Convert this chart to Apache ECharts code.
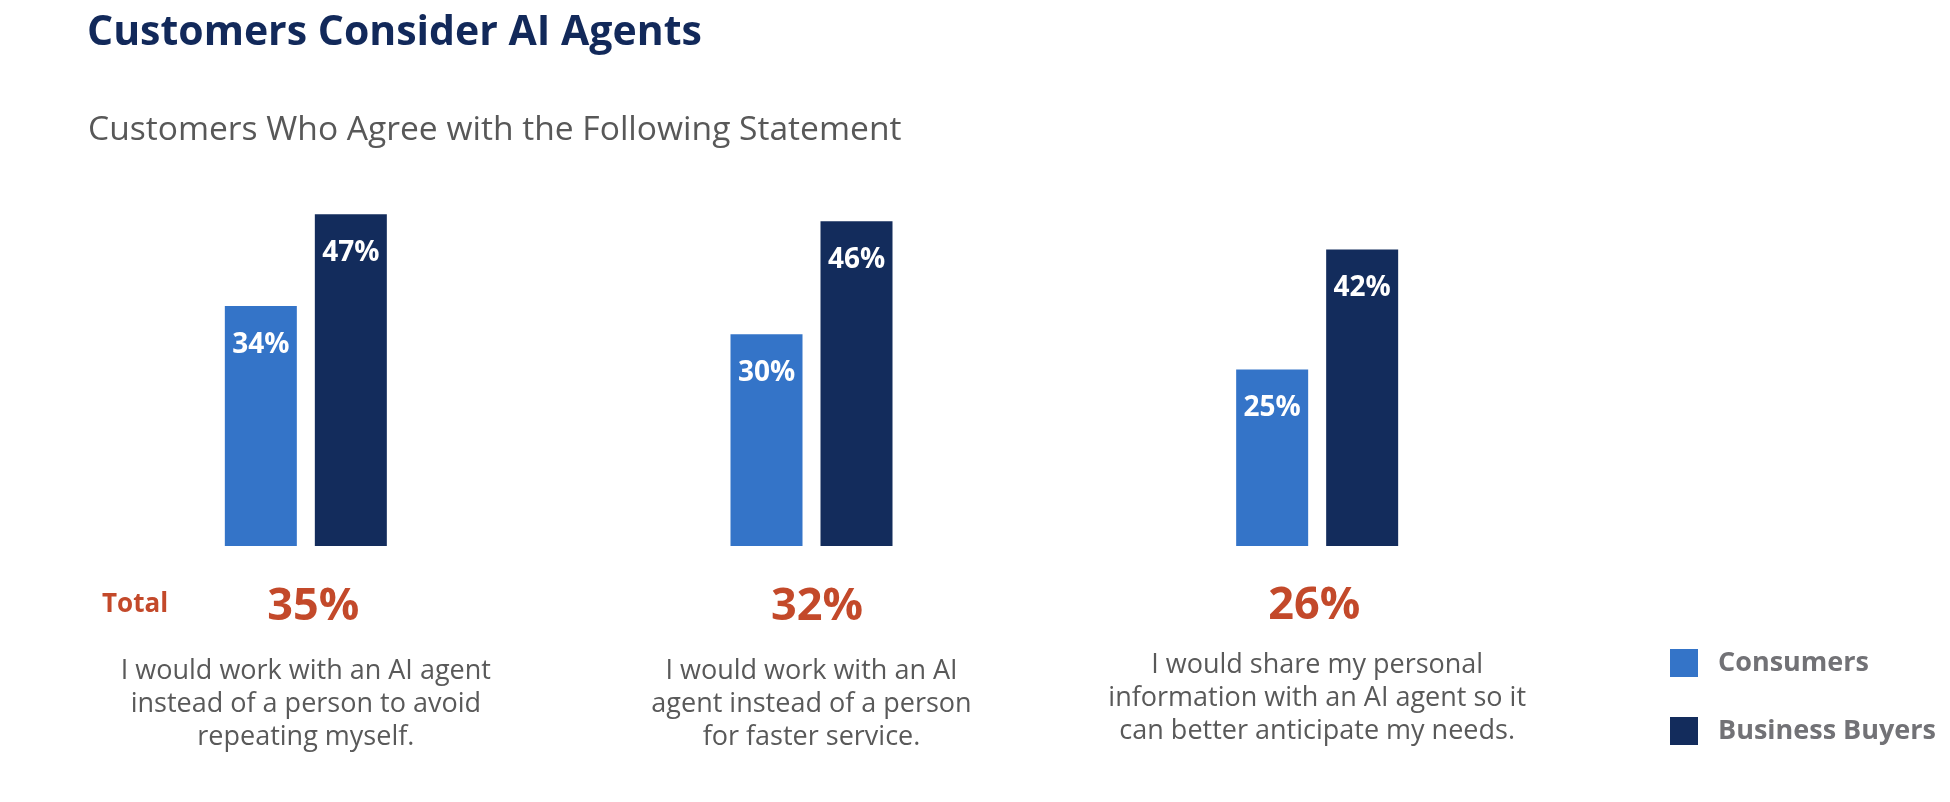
<!DOCTYPE html>
<html>
<head>
<meta charset="utf-8">
<script src="https://cdn.jsdelivr.net/npm/echarts@6/dist/echarts.min.js"></script>
<style>
html,body{margin:0;padding:0;background:#fff;}
#chart{width:1950px;height:802px;}
</style>
</head>
<body>
<div id="chart"></div>
<script>
var categories = [
  "I would work with an AI agent\ninstead of a person to avoid\nrepeating myself.",
  "I would work with an AI\nagent instead of a person\nfor faster service.",
  "I would share my personal\ninformation with an AI agent so it\ncan better anticipate my needs."
];
var consumers = [34, 30, 25];
var businessBuyers = [47, 46, 42];
var totals = [35, 32, 26];
var seriesNames = ["Consumers", "Business Buyers"];

var FONT = '"Open Sans", "Noto Sans", sans-serif';
var totalBase = {fontFamily: FONT, fontSize: 45, fontWeight: 'bold', color: '#c3492a', align: 'center'};
var chart = echarts.init(document.getElementById('chart'));
var option = {
  backgroundColor: '#ffffff',
  animation: false,
  title: [
    {
      text: 'Customers Consider AI Agents',
      left: 82, top: 8,
      textStyle: {fontFamily: FONT, fontSize: 41, fontWeight: 'bold', color: '#12295a'}
    },
    {
      text: 'Customers Who Agree with the Following Statement',
      left: 83, top: 108,
      textStyle: {fontFamily: FONT, fontSize: 33.6, fontWeight: 'normal', color: '#585858'}
    }
  ],
  legend: {
    orient: 'vertical',
    left: 1670, top: 649, padding: 0,
    itemWidth: 28, itemHeight: 28, itemGap: 40,
    icon: 'rect',
    data: seriesNames,
    textStyle: {fontFamily: FONT, fontSize: 27, fontWeight: 'bold', color: '#727276', padding: [0, 0, 0, 15]}
  },
  grid: {left: 53, right: 380, top: 193, bottom: 256},
  xAxis: {
    type: 'category',
    data: categories,
    axisLine: {show: false},
    axisTick: {show: false},
    axisLabel: {
      interval: 0,
      margin: 6,
      formatter: function (value, idx) {
        return '{t' + (idx + 1) + '|' + totals[idx] + '%}\n' + value.split('\n').map(function (l) { return '{d|' + l + '}'; }).join('\n');
      },
      rich: {
        t1: Object.assign({lineHeight: 103, padding: [7, 0, 0, 15]}, totalBase),
        t2: Object.assign({lineHeight: 103, padding: [7, 0, 0, 11]}, totalBase),
        t3: Object.assign({lineHeight: 97, padding: [12, 6, 0, 0]}, totalBase),
        d: {fontFamily: FONT, fontSize: 27, color: '#595959', lineHeight: 33, align: 'center'}
      }
    }
  },
  yAxis: {
    type: 'value', min: 0, max: 50, show: false,
    splitLine: {show: false}
  },
  graphic: [
    {
      type: 'text', x: 102, y: 605,
      style: {text: 'Total', font: 'bold 26px "Open Sans"', fill: '#c3492a', verticalAlign: 'middle', align: 'left'}
    }
  ],
  series: [
    {
      name: seriesNames[0], type: 'bar', data: consumers,
      barWidth: 72, barGap: '25%',
      itemStyle: {color: '#3474c8'},
      label: {show: true, position: 'insideTop', distance: 25, formatter: '{c}%',
        fontFamily: FONT, fontSize: 28, fontWeight: 'bold', color: '#ffffff'}
    },
    {
      name: seriesNames[1], type: 'bar', data: businessBuyers,
      barWidth: 72, barGap: '25%',
      itemStyle: {color: '#132c5c'},
      label: {show: true, position: 'insideTop', distance: 25, formatter: '{c}%',
        fontFamily: FONT, fontSize: 28, fontWeight: 'bold', color: '#ffffff'}
    }
  ]
};
chart.setOption(option);
</script>
</body>
</html>
